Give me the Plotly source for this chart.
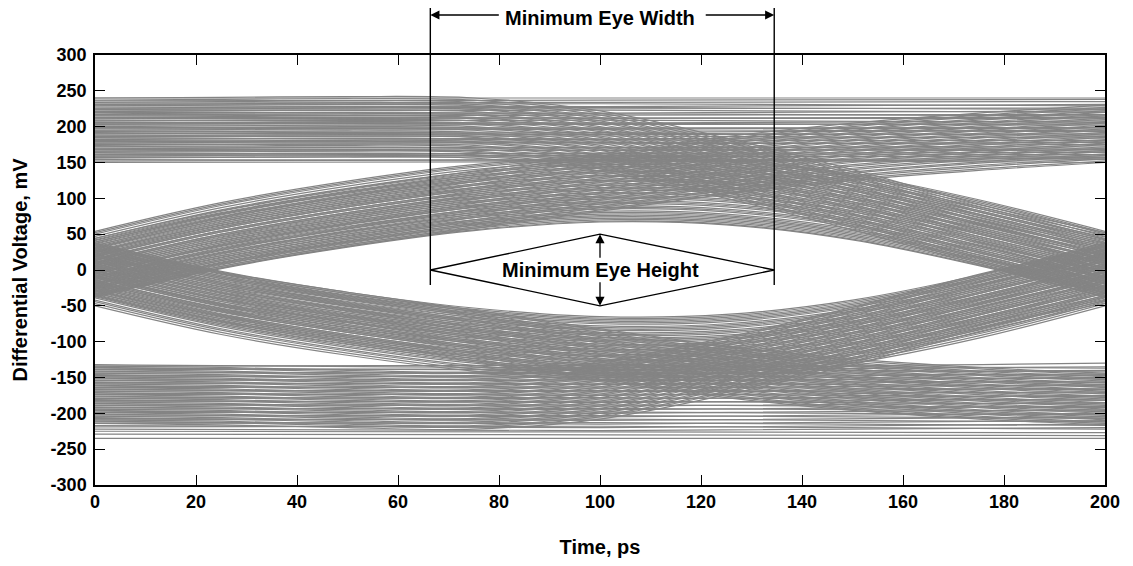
import plotly.graph_objects as go

# ---- data (time in ps, voltage in mV) ----
x_key = [0, 25, 50, 75, 100, 125, 150, 175, 200]

# innermost trace of each transition family, and the spread of the family
upper_arch_base = [-38, 2, 32, 55, 67, 63, 42, 6, -38]          # 0-1-0
upper_arch_offsets = [0, 1, 3, 5, 7, 9, 11, 13, 15, 18, 20, 22, 25, 27, 29, 32, 34,
                      36, 39, 41, 44, 46, 48, 51, 53, 56, 58, 60, 63, 65, 68, 70,
                      72, 75, 77, 80, 82, 85, 88, 90, 92]
lower_arch_base = [38, -2, -31, -53, -65, -62, -42, -7, 38]      # 1-0-1
lower_arch_offsets = [0, 2, 4, 6, 8, 10, 13, 15, 17, 19, 22, 24, 26, 29, 31, 33,
                      35, 38, 40, 42, 45, 47, 49, 52, 54, 56, 59, 61, 63, 66, 68,
                      70, 73, 75, 77, 80, 82, 85, 88]
upper_rise_base = [-36, 3, 33, 58, 82, 106, 125, 139, 150]       # 0-1-1
upper_rise_offsets = [0, 2, 5, 7, 10, 12, 15, 17, 20, 22, 25, 27, 30, 32, 35, 37,
                      40, 42, 45, 47, 50, 52, 55, 57, 60, 62, 65, 67, 70, 72, 75,
                      77, 80]
upper_fall_base = [156, 157, 158, 156, 138, 100, 56, 8, -32]     # 1-1-0
upper_fall_offsets = [0, 3, 5, 8, 10, 13, 16, 18, 21, 23, 26, 29, 31, 34, 36, 39,
                      42, 44, 47, 49, 52, 55, 57, 60, 62, 65, 68, 70, 73, 75, 78,
                      81, 84]
lower_fall_base = [36, -3, -31, -56, -82, -106, -124, -136, -144]  # 1-0-0
lower_fall_offsets = [0, 2, 5, 7, 9, 11, 14, 16, 18, 20, 23, 25, 27, 29, 32, 34,
                      36, 38, 41, 43, 45, 47, 50, 52, 54, 56, 59, 61, 63, 65, 68,
                      70, 72]
lower_rise_base = [-134, -136, -140, -142, -128, -94, -52, -6, 34]  # 0-0-1
lower_rise_offsets = [0, 2, 5, 7, 10, 12, 15, 17, 20, 22, 25, 27, 30, 32, 35, 37,
                      40, 42, 45, 47, 50, 52, 55, 57, 60, 62, 65, 67, 70, 72, 75,
                      77, 80]

# steady levels (1-1-1 and 0-0-0) at t = 0, 100, 200 ps
flat_x = [0, 100, 200]
top_flat_start = [150, 152, 154, 157, 159, 161, 163, 166, 168, 170, 172, 175, 177, 179,
                  181, 184, 186, 188, 190, 193, 195, 197, 199, 202, 204, 206, 208, 211,
                  213, 215, 217, 220, 222, 224, 226, 229, 231, 233, 236, 240]
top_flat_mid = [151, 154, 153, 158, 160, 163, 162, 167, 169, 171, 171, 176, 178, 180,
                182, 183, 187, 189, 191, 192, 196, 198, 198, 203, 205, 205, 209, 212,
                212, 216, 218, 219, 223, 225, 227, 228, 232, 234, 237, 240]
top_flat_end = [154, 150, 156, 159, 157, 164, 161, 168, 166, 173, 170, 178, 175, 181,
                180, 186, 184, 190, 188, 195, 193, 199, 197, 204, 202, 208, 206, 213,
                211, 217, 215, 222, 220, 226, 224, 231, 229, 235, 238, 240]
bot_flat_start = [-132, -134, -137, -139, -142, -144, -147, -149, -152, -154, -157,
                  -159, -162, -164, -167, -169, -172, -174, -177, -179, -182, -184,
                  -187, -189, -192, -194, -197, -199, -202, -204, -207, -209, -212,
                  -214, -217, -219, -222, -225, -229, -235]
bot_flat_mid = [-136, -133, -140, -138, -145, -143, -150, -148, -155, -153, -160,
                -158, -165, -163, -170, -168, -175, -173, -180, -178, -185, -183,
                -190, -188, -195, -193, -200, -198, -205, -203, -210, -208, -215,
                -213, -220, -218, -224, -226, -230, -235]
bot_flat_end = [-130, -137, -135, -142, -140, -147, -145, -152, -150, -157, -155,
                -162, -160, -167, -165, -172, -170, -177, -175, -182, -180, -187,
                -185, -192, -190, -197, -195, -202, -200, -207, -205, -212, -210,
                -217, -215, -222, -220, -227, -231, -235]

x_ticks = [0, 20, 40, 60, 80, 100, 120, 140, 160, 180, 200]
y_ticks = [-300, -250, -200, -150, -100, -50, 0, 50, 100, 150, 200, 250, 300]

eye_left, eye_right = 66.4, 134.5
eye_height_half = 50

# ---- build figure ----
LINE = "rgb(132,132,132)"
LW = 1.2
FONT = "Liberation Sans, Arial, sans-serif"


def family(base, offsets, sign):
    xs, ys = [], []
    for off in offsets:
        xs += x_key + [None]
        ys += [b + sign * off for b in base] + [None]
    return xs, ys


fig = go.Figure()

for base, offs, sign in [
    (upper_arch_base, upper_arch_offsets, 1),
    (lower_arch_base, lower_arch_offsets, -1),
    (upper_rise_base, upper_rise_offsets, 1),
    (upper_fall_base, upper_fall_offsets, 1),
    (lower_fall_base, lower_fall_offsets, -1),
    (lower_rise_base, lower_rise_offsets, -1),
]:
    xs, ys = family(base, offs, sign)
    fig.add_trace(go.Scatter(x=xs, y=ys, mode="lines",
                             line=dict(color=LINE, width=LW, shape="spline", smoothing=1),
                             hoverinfo="skip", showlegend=False))

for s, m, e in [(top_flat_start, top_flat_mid, top_flat_end),
                (bot_flat_start, bot_flat_mid, bot_flat_end)]:
    xs, ys = [], []
    for a, b, c in zip(s, m, e):
        xs += flat_x + [None]
        ys += [a, b, c, None]
    fig.add_trace(go.Scatter(x=xs, y=ys, mode="lines",
                             line=dict(color=LINE, width=LW, shape="spline", smoothing=1),
                             hoverinfo="skip", showlegend=False))

# diamond for minimum eye height
fig.add_shape(type="path",
              path=f"M {eye_left},0 L 100,{eye_height_half} L {eye_right},0 L 100,{-eye_height_half} Z",
              xref="x", yref="y", line=dict(color="black", width=1.4))

# vertical eye-width markers (extend above the plot)
y_low = (-21 + 300) / 600
for xv in (eye_left, eye_right):
    fig.add_shape(type="line", xref="paper", yref="paper",
                  x0=xv / 200, x1=xv / 200, y0=y_low, y1=1.11,
                  line=dict(color="black", width=1.4))

y_arrow = 1 + 40 / 430
ann_font = dict(family=FONT, size=20, color="black", weight="bold")
arrow_style = dict(arrowhead=2, arrowsize=1.4, arrowwidth=1.3, arrowcolor="black",
                   standoff=0)
anns = [
    dict(x=eye_left, y=y_arrow, xref="x", yref="paper", text="", showarrow=True,
         ax=70, ay=0, **arrow_style),
    dict(x=eye_right, y=y_arrow, xref="x", yref="paper", text="", showarrow=True,
         ax=-70, ay=0, **arrow_style),
    dict(x=100, y=y_arrow - 0.006, xref="x", yref="paper", text="Minimum Eye Width",
         showarrow=False, yanchor="middle", font=ann_font),
    dict(x=100, y=eye_height_half, xref="x", yref="y", text="", showarrow=True,
         axref="x", ayref="y", ax=100, ay=15, **arrow_style),
    dict(x=100, y=-eye_height_half, xref="x", yref="y", text="", showarrow=True,
         axref="x", ayref="y", ax=100, ay=-15, **arrow_style),
    dict(x=100, y=0, xref="x", yref="y", text="Minimum Eye Height",
         showarrow=False, yanchor="middle", font=ann_font),
]
fig.update_layout(annotations=anns)

axis_common = dict(showgrid=False, zeroline=False, showline=True, linecolor="black",
                   linewidth=1.5, ticks="inside", ticklen=10, tickwidth=1.2,
                   tickcolor="black", mirror="ticks",
                   tickfont=dict(family=FONT, size=18, color="black", weight="bold"))
title_font = dict(family=FONT, size=20, color="black", weight="bold")
fig.update_xaxes(range=[0, 200], tickvals=x_ticks, ticktext=[str(v) for v in x_ticks],
                 title=dict(text="Time, ps", font=title_font, standoff=30),
                 **axis_common)
fig.update_yaxes(range=[-300, 300], tickvals=y_ticks, ticktext=[str(v) for v in y_ticks],
                 ticklabelstandoff=3,
                 title=dict(text="Differential Voltage, mV", font=title_font,
                            standoff=18),
                 **axis_common)

# page body has an 8 px margin, so the figure is sized/offset to compensate
fig.update_layout(width=1117, height=550, plot_bgcolor="white", paper_bgcolor="white",
                  margin=dict(l=87, r=20, t=47, b=73, autoexpand=False),
                  font=dict(family=FONT, color="black"))

fig.write_html("out.html")
